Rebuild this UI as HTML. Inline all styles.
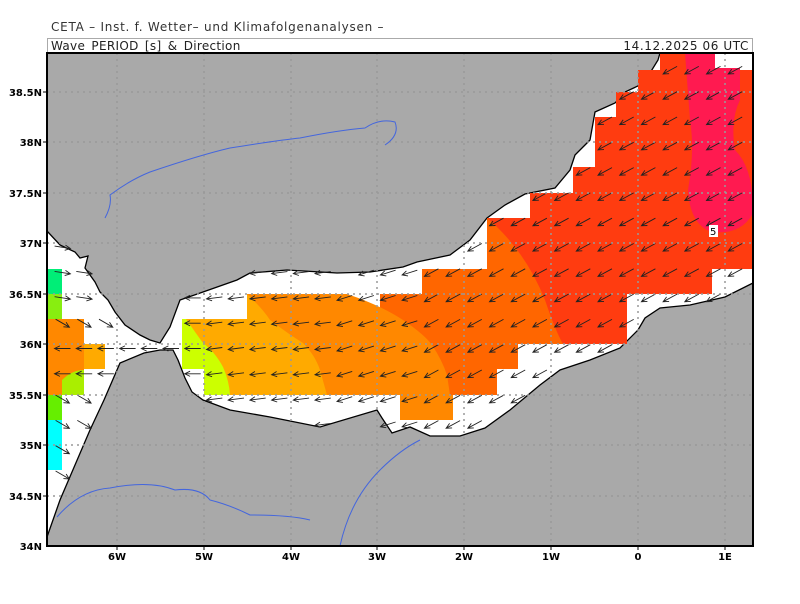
<!DOCTYPE html>
<html><head><meta charset="utf-8"><style>
body{margin:0;background:#fff;width:800px;height:600px;overflow:hidden;font-family:"DejaVu Sans","Liberation Sans",sans-serif}
</style></head><body>
<svg id="s" width="800" height="600" xmlns="http://www.w3.org/2000/svg">
<defs><clipPath id="c"><rect x="47" y="53" width="706" height="493"/></clipPath></defs>
<text x="51" y="31" font-size="12" fill="#333" letter-spacing="0.75">CETA – Inst. f. Wetter– und Klimafolgenanalysen –</text>
<rect x="47.5" y="38.5" width="705" height="14" fill="#fff" stroke="#aaa"/>
<text x="51" y="50" font-size="12" fill="#222" letter-spacing="0.3">Wave_PERIOD_[s]_&amp;_Direction</text>
<text x="749" y="50" font-size="12" fill="#222" text-anchor="end" letter-spacing="0.6">14.12.2025 06 UTC</text>
<g clip-path="url(#c)">
<rect x="47" y="53" width="706" height="493" fill="#a9a9a9"/>
<path id="sea" fill="#fff" stroke="#000" stroke-width="1.3" d="M47,231 L60,245 L75,252 L80,258 L88,256 L85,268 L95,282 L100,292 L108,300 L115,312 L125,325 L140,335 L150,340 L160,343 L170,327 L180,300 L203,292 L237,280 L250,273 L287,270 L337,273 L370,272 L403,267 L417,262 L450,255 L470,240 L487,218 L505,205 L525,194 L555,188 L570,170 L575,155 L590,140 L595,112 L615,103 L625,92 L640,85 L650,73 L658,60 L660,53 L753,53 L753,283 L725,297 L690,305 L660,308 L645,318 L638,330 L620,348 L590,360 L560,370 L540,385 L510,410 L485,428 L460,436 L430,436 L410,427 L392,433 L382,418 L377,410 L320,427 L270,417 L230,410 L203,400 L192,392 L185,378 L178,360 L173,350 L160,350 L144,353 L120,363 L104,400 L90,430 L75,465 L60,500 L47,537 Z"/>
<g>
<path fill="#ff3c10" d="M660,53H715V70H753V269H712V294H627V344H422V269H487V218H530V193H573V167H595V117H616V92H638V70H660Z"/>
<path fill="#ff1a50" d="M685,53H715V68H740V100Q730,120 735,150Q755,170 752,215Q740,235 712,232Q690,225 688,190Q695,150 690,120Z"/>
<path fill="#ff6600" d="M487,218 Q525,250 545,300 Q555,330 563,344 H518V369H497V395H453V420H400V395H380V294H422V269H487Z"/>
<path fill="#ff8800" d="M247,294H347Q380,305 403,320Q425,335 432,345Q442,360 447,375L450,395H453V420H400V395H247Z"/>
<path fill="#ffaa00" d="M182,319H247V294Q262,308 270,320Q290,335 303,343Q315,355 320,370L327,395H204V369H182Z"/>
<path fill="#ccff00" d="M182,319H186Q195,332 203,343Q215,352 223,367Q229,380 230,395H204V369H182Z"/>
<path fill="#00ee77" d="M47,269H62V294H47Z"/>
<path fill="#88ee10" d="M47,294H62V319H47Z"/>
<path fill="#ff8800" d="M47,319H84V344H105V369H84V380Q70,382 62,395H47Z"/>
<path fill="#ffaa00" d="M84,344H105V369H84Z"/>
<path fill="#aaee00" d="M62,380Q72,370 84,370V395H62Z"/>
<path fill="#66ee00" d="M47,395H62V420H47Z"/>
<path fill="#00ffff" d="M47,420H62V470H47Z"/>
</g>
<g id="arr" stroke="#222" stroke-width="0.9" fill="none"></g>
<g stroke="#999" stroke-width="1.5" stroke-dasharray="2,4">
<line x1="117" y1="53" x2="117" y2="546"/><line x1="204" y1="53" x2="204" y2="546"/><line x1="291" y1="53" x2="291" y2="546"/><line x1="377" y1="53" x2="377" y2="546"/><line x1="464" y1="53" x2="464" y2="546"/><line x1="551" y1="53" x2="551" y2="546"/><line x1="638" y1="53" x2="638" y2="546"/><line x1="725" y1="53" x2="725" y2="546"/>
<line x1="47" y1="92" x2="753" y2="92"/><line x1="47" y1="142" x2="753" y2="142"/><line x1="47" y1="193" x2="753" y2="193"/><line x1="47" y1="243" x2="753" y2="243"/><line x1="47" y1="294" x2="753" y2="294"/><line x1="47" y1="344" x2="753" y2="344"/><line x1="47" y1="395" x2="753" y2="395"/><line x1="47" y1="445" x2="753" y2="445"/><line x1="47" y1="496" x2="753" y2="496"/>
</g>
<path fill="none" stroke="#4466dd" stroke-width="1" d="M105,218 Q112,205 110,195 Q130,180 150,172 Q200,155 230,148 Q280,140 300,138 Q340,130 365,128 Q380,118 395,122 Q400,135 385,145 M57,517 Q80,490 110,488 Q150,480 175,490 Q200,487 210,500 Q230,505 250,515 Q290,515 310,520 M340,546 Q350,500 380,470 Q400,450 420,440"/>
<rect x="709" y="225" width="9" height="12" fill="#fff"/><text x="710" y="235" font-size="10" fill="#000">5</text>
</g>
<rect x="47" y="53" width="706" height="493" fill="none" stroke="#000" stroke-width="2"/>
<g font-size="10" font-weight="bold" fill="#000" text-anchor="end">
<text x="42" y="96">38.5N</text><text x="42" y="146">38N</text><text x="42" y="197">37.5N</text><text x="42" y="247">37N</text><text x="42" y="298">36.5N</text><text x="42" y="348">36N</text><text x="42" y="399">35.5N</text><text x="42" y="449">35N</text><text x="42" y="500">34.5N</text><text x="42" y="550">34N</text>
</g>
<g font-size="10" font-weight="bold" fill="#000" text-anchor="middle">
<text x="117" y="560">6W</text><text x="204" y="560">5W</text><text x="291" y="560">4W</text><text x="377" y="560">3W</text><text x="464" y="560">2W</text><text x="551" y="560">1W</text><text x="638" y="560">0</text><text x="725" y="560">1E</text>
</g>
<g stroke="#000" stroke-width="1">
<line x1="43" y1="92" x2="47" y2="92"/><line x1="43" y1="142" x2="47" y2="142"/><line x1="43" y1="193" x2="47" y2="193"/><line x1="43" y1="243" x2="47" y2="243"/><line x1="43" y1="294" x2="47" y2="294"/><line x1="43" y1="344" x2="47" y2="344"/><line x1="43" y1="395" x2="47" y2="395"/><line x1="43" y1="445" x2="47" y2="445"/><line x1="43" y1="496" x2="47" y2="496"/>
<line x1="117" y1="546" x2="117" y2="550"/><line x1="204" y1="546" x2="204" y2="550"/><line x1="291" y1="546" x2="291" y2="550"/><line x1="377" y1="546" x2="377" y2="550"/><line x1="464" y1="546" x2="464" y2="550"/><line x1="551" y1="546" x2="551" y2="550"/><line x1="638" y1="546" x2="638" y2="550"/><line x1="725" y1="546" x2="725" y2="550"/>
</g>
</svg>
<script>
(function(){
var sea=document.getElementById('sea'),g=document.getElementById('arr');
var out='';
for(var j=-7;j<13;j++){var cy=222+j*25.3;if(cy<58||cy>543)continue;
for(var i=-16;i<18;i++){var cx=388+i*21.7;if(cx<52||cx>750)continue;
var ok=true;try{ok=sea.isPointInFill(new DOMPoint(cx,cy));}catch(e){}
if(!ok)continue;
var ang;
if(cx<110) ang=30*Math.PI/180; else if(cx<200) ang=Math.PI; else if(cx<330) ang=Math.PI-0.12; else if(cx<420) ang=Math.PI-0.3; else ang=Math.PI-0.5;
if(cx<110 && cy<300) ang=0.15;
if(cx<110 && cy>330 && cy<380) ang=Math.PI;
var L=8,dx=Math.cos(ang)*L,dy=Math.sin(ang)*L;
var x1=cx-dx,y1=cy-dy,hx=cx+dx,hy=cy+dy,a=ang,h=6;
var p1x=hx-h*Math.cos(a-0.45),p1y=hy-h*Math.sin(a-0.45),p2x=hx-h*Math.cos(a+0.45),p2y=hy-h*Math.sin(a+0.45);
out+='<path d="M'+x1.toFixed(1)+','+y1.toFixed(1)+'L'+hx.toFixed(1)+','+hy.toFixed(1)+'M'+p1x.toFixed(1)+','+p1y.toFixed(1)+'L'+hx.toFixed(1)+','+hy.toFixed(1)+'L'+p2x.toFixed(1)+','+p2y.toFixed(1)+'"/>';
}}
g.innerHTML=out;
})();
</script>
</body></html>
